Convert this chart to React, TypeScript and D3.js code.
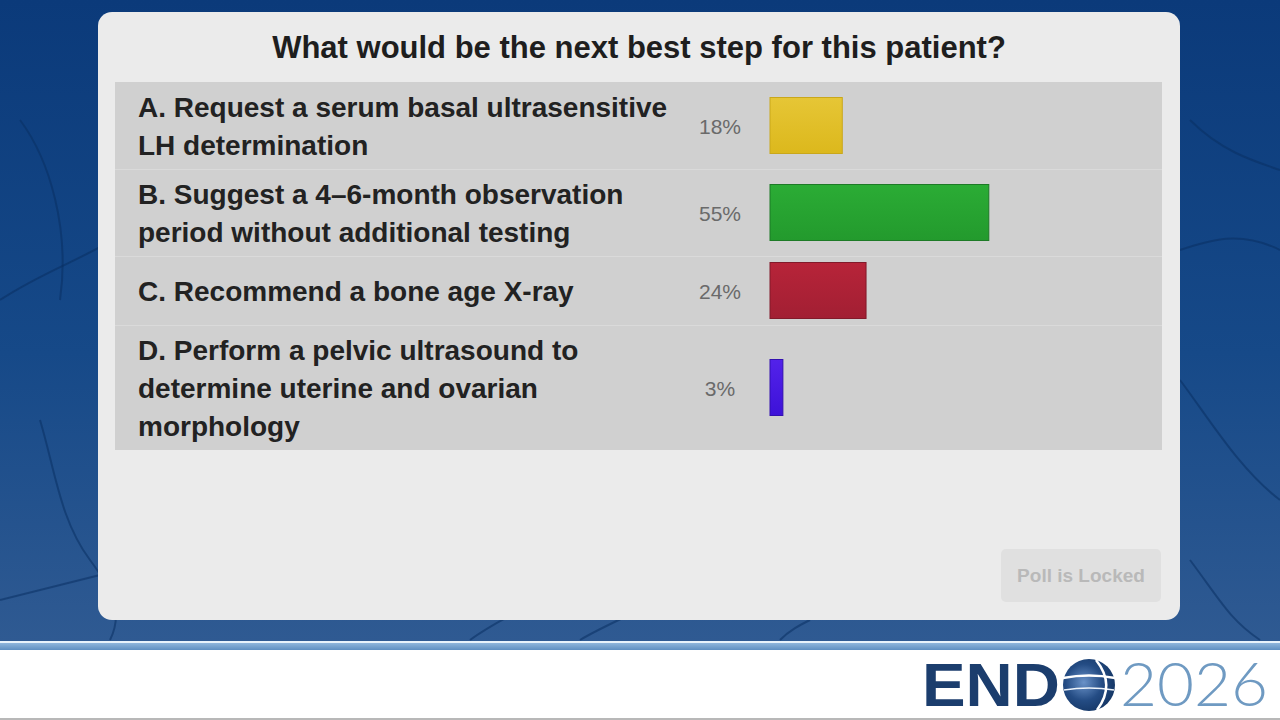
import * as d3 from 'd3'

// poll data
const QUESTION = 'What would be the next best step for this patient?'
const OPTION_LINES: string[][] = [
  ['A. Request a serum basal ultrasensitive', 'LH determination'],
  ['B. Suggest a 4–6-month observation', 'period without additional testing'],
  ['C. Recommend a bone age X-ray'],
  ['D. Perform a pelvic ultrasound to', 'determine uterine and ovarian', 'morphology'],
]
const PERCENTS = [18, 55, 24, 3]
const BAR_COLORS = [
  { top: '#e6c636', bottom: '#dcb81c', stroke: '#c9a71b' },
  { top: '#2bac35', bottom: '#239a2d', stroke: '#1d7a26' },
  { top: '#b72439', bottom: '#a21f33', stroke: '#821a2a' },
  { top: '#5322ea', bottom: '#3d12d8', stroke: '#3210b0' },
]

const W = 1280
const H = 720
const CARD = { x: 98, y: 12, w: 1082, h: 608 }
const PANEL = { x: 115, w: 1047, top: 82 }
const LINE_H = 38
const BAR_H = 56

export default function App() {
  const x = d3.scaleLinear().domain([0, 100]).range([770, 1166])

  // row layout from the number of text lines
  const rows: { y: number; h: number }[] = []
  let cursor = PANEL.top
  OPTION_LINES.forEach(lines => {
    const h = Math.max(lines.length * LINE_H + 11, BAR_H + 13)
    rows.push({ y: cursor, h })
    cursor += h
  })
  const panelBottom = cursor

  // decorative vein lines in the background
  const veins = [
    'M0,300 C60,260 120,250 160,200 S230,120 260,60',
    'M40,420 C55,470 60,520 90,560 S120,620 110,640',
    'M0,600 C40,590 80,580 100,575',
    'M20,120 C50,160 70,230 60,300',
    'M1180,380 C1210,420 1240,470 1280,500',
    'M1190,560 C1220,600 1230,620 1260,640',
    'M470,640 C490,625 520,610 540,600',
    'M580,640 C600,628 630,615 650,605',
    'M780,640 C790,630 800,625 810,620',
    'M1190,120 C1220,150 1250,160 1280,170',
    'M1180,250 C1210,240 1240,230 1280,250',
  ]

  return (
    <svg width={W} height={H} style={{ position: 'absolute', left: 0, top: 0 }}
      fontFamily="'Liberation Sans', Arial, sans-serif">
      <defs>
        <linearGradient id="bg" x1="0" y1="0" x2="0" y2="1">
          <stop offset="0%" stopColor="#0b3a7a" />
          <stop offset="55%" stopColor="#164988" />
          <stop offset="100%" stopColor="#2f5a92" />
        </linearGradient>
        <linearGradient id="stripe" x1="0" y1="0" x2="0" y2="1">
          <stop offset="0%" stopColor="#8fb6dc" />
          <stop offset="100%" stopColor="#5f8fc2" />
        </linearGradient>
        <radialGradient id="globe" cx="40%" cy="45%" r="70%">
          <stop offset="0%" stopColor="#6a92c8" />
          <stop offset="50%" stopColor="#244c84" />
          <stop offset="100%" stopColor="#10305c" />
        </radialGradient>
        {BAR_COLORS.map((c, i) => (
          <linearGradient key={i} id={`bar${i}`} x1="0" y1="0" x2="0" y2="1">
            <stop offset="0%" stopColor={c.top} />
            <stop offset="100%" stopColor={c.bottom} />
          </linearGradient>
        ))}
      </defs>

      {/* background */}
      <rect x={0} y={0} width={W} height={641} fill="url(#bg)" />
      {veins.map((d, i) => (
        <path key={i} d={d} fill="none" stroke="#0a2f63" strokeWidth={2} opacity={0.55} />
      ))}
      <rect x={0} y={641} width={W} height={2} fill="#e8f2fb" />
      <rect x={0} y={643} width={W} height={7} fill="url(#stripe)" />
      <rect x={0} y={650} width={W} height={70} fill="#ffffff" />
      <rect x={0} y={718} width={W} height={2} fill="#b8b8b8" />

      {/* card */}
      <rect x={CARD.x} y={CARD.y} width={CARD.w} height={CARD.h} rx={14} fill="#ebebeb" />
      <text x={639} y={58} textAnchor="middle" fontSize={31} fontWeight="bold" fill="#1e1e1e">
        {QUESTION}
      </text>

      {/* option rows */}
      <rect x={PANEL.x} y={PANEL.top} width={PANEL.w} height={panelBottom - PANEL.top} fill="#d0d0d0" />
      {rows.map((r, i) => {
        const lines = OPTION_LINES[i]
        const textTop = r.y + (r.h - lines.length * LINE_H) / 2
        return (
          <g key={i}>
            {i > 0 && (
              <line x1={PANEL.x} x2={PANEL.x + PANEL.w} y1={r.y + 0.5} y2={r.y + 0.5}
                stroke="#dadada" strokeWidth={1} />
            )}
            {lines.map((t, j) => (
              <text key={j} x={138} y={textTop + 29 + j * LINE_H} fontSize={28} fontWeight="bold" fill="#222">
                {t}
              </text>
            ))}
            <text x={720} y={r.y + r.h / 2 + 8} textAnchor="middle" fontSize={21} fill="#6a6a6a">
              {PERCENTS[i]}%
            </text>
            <rect x={x(0)} y={r.y + (r.h - BAR_H) / 2} width={x(PERCENTS[i]) - x(0) + 1}
              height={BAR_H} fill={`url(#bar${i})`} stroke={BAR_COLORS[i].stroke} strokeWidth={1} />
          </g>
        )
      })}

      {/* locked button */}
      <rect x={1001} y={549} width={160} height={53} rx={5} fill="#e0e0e0" />
      <text x={1081} y={582} textAnchor="middle" fontSize={19} fontWeight="bold" fill="#b9b9b9">
        Poll is Locked
      </text>

      {/* logo */}
      <text x={922} y={706} fontSize={62} fontWeight="900" fill="#1b3d6d"
        textLength={138} lengthAdjust="spacingAndGlyphs">
        END
      </text>
      <circle cx={1089} cy={685} r={26} fill="url(#globe)" />
      <path d="M1063,678 Q1089,673 1115,678" fill="none" stroke="#ffffff" strokeWidth={2.5} />
      <path d="M1064,690 Q1089,686 1114,690" fill="none" stroke="#eef4fb" strokeWidth={1.5} />
      <path d="M1096,660 Q1116,685 1097,710" fill="none" stroke="#ffffff" strokeWidth={2.5} />
      <text x={1120} y={706} fontSize={62} fontWeight="300" fill="#6f9ac2"
        fontFamily="Lato, 'Open Sans', sans-serif" textLength={148} lengthAdjust="spacingAndGlyphs">
        2026
      </text>
    </svg>
  )
}
